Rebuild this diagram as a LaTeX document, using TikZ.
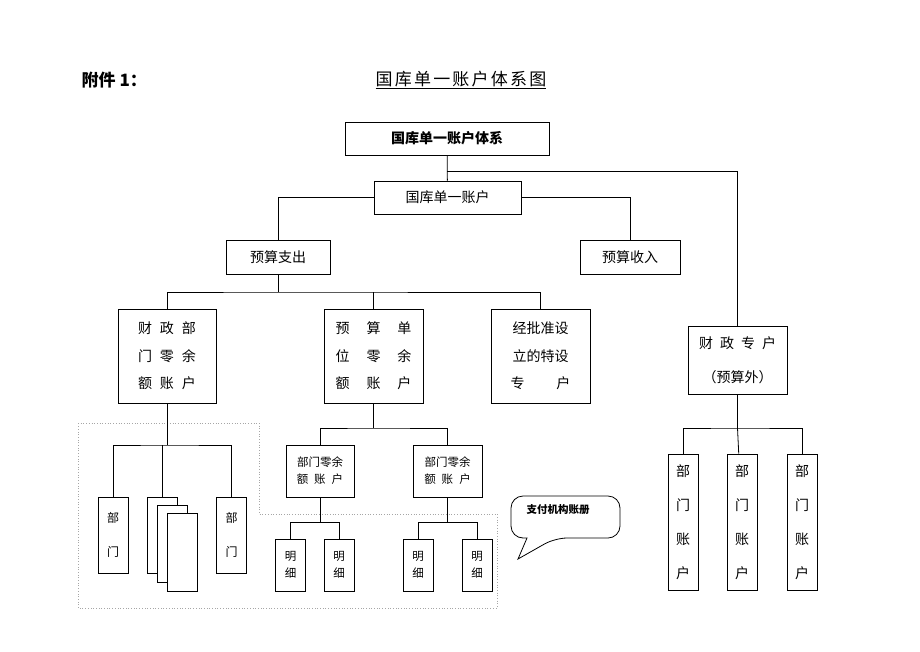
\documentclass[tikz,border=0pt]{standalone}
\usepackage{fontspec}
\setmainfont{Liberation Serif}
\newfontfamily\cjk{Noto Sans CJK SC}
\usetikzlibrary{positioning}
\tikzset{
  % every account box is an empty rectangle
  acct/.style 2 args = {
    draw = black,
    rectangle,
    inner sep = 0,
    minimum width = #1,
    minimum height = #2,
    align = center
  },
  % text sizes
  mid text/.style = {
    font = \cjk\fontsize{14}{27.5}\selectfont
  },
  tall text/.style = {
    font = \cjk\fontsize{14}{34}\selectfont
  },
  small text/.style = {
    font = \cjk\fontsize{11.5}{17}\selectfont
  },
  door text/.style = {
    font = \cjk\fontsize{12}{34}\selectfont
  },
  link/.style = {
    draw = black,
    line width = 0.8pt
  }
}
\begin{document}
\begin{tikzpicture}[x=1pt, y=-1pt, line width=0.8pt]
    \useasboundingbox (0,0) rectangle (920,651);

    % headings
    \node[font=\cjk\bfseries\fontsize{17}{20}\selectfont, anchor=west] (annex) at (78,80) {附件 1：};
    \node[font=\cjk\fontsize{17}{20}\selectfont\addfontfeatures{LetterSpace=13}] (title) at (461,80) {\underline{国库单一账户体系图}};

    % gray dotted area
    \draw[gray!70, dotted, line width=0.7pt] (78,423) -- (259,423) -- (259,514) -- (497,514)
      -- (497,608) -- (78,608) -- cycle;

    \node[acct={204}{33}, font=\cjk\bfseries\fontsize{14}{16}\selectfont] (sys) at (447,138.5) {国库单一账户体系};
    \node[acct={147}{33}, mid text] (single) at (447.5,197.5) {国库单一账户};
    \node[acct={104}{34}, mid text] (spend) at (278,257) {预算支出};
    \node[acct={100}{34}, mid text] (income) at (630,257) {预算收入};

    \node[acct={98}{94}, mid text] (fin) at (167,356)
      {财\hspace{8pt}政\hspace{8pt}部\\门\hspace{8pt}零\hspace{8pt}余\\额\hspace{8pt}账\hspace{8pt}户};
    \node[acct={99}{94}, mid text] (unit) at (373.5,356)
      {预\hspace{17pt}算\hspace{17pt}单\\位\hspace{17pt}零\hspace{17pt}余\\额\hspace{17pt}账\hspace{17pt}户};
    \node[acct={99}{94}, mid text] (special) at (540.5,356)
      {经批准设\\立的特设\\专\hspace{32pt}户};
    \node[acct={99}{68}, tall text] (extra) at (737.5,360)
      {财\hspace{7pt}政\hspace{7pt}专\hspace{7pt}户\\（预算外）};

    % department accounts under the extra-budget account
    \node[acct={30}{136}, tall text] (dep1) at (683,522) {部\\门\\账\\户};
    \node[acct={30}{136}, tall text] (dep2) at (742,522) {部\\门\\账\\户};
    \node[acct={30}{136}, tall text] (dep3) at (802,522) {部\\门\\账\\户};

    % department boxes under the finance account
    \node[acct={30}{76}, door text] (doorL) at (113,535) {部\\门};
    \node[acct={30}{76}, fill=white] (stack1) at (162,535) {};
    \node[acct={30}{77}, fill=white] (stack2) at (172,543.5) {};
    \node[acct={30}{78}, fill=white] (stack3) at (182,552) {};
    \node[acct={30}{76}, door text] (doorR) at (231.5,535) {部\\门};

    % zero-balance accounts of departments
    \node[acct={68}{52}, small text] (zeroA) at (320,471) {部门零余\\额\hspace{6pt}账\hspace{6pt}户};
    \node[acct={69}{52}, small text] (zeroB) at (447.5,471) {部门零余\\额\hspace{6pt}账\hspace{6pt}户};

    \node[acct={30}{52}, small text] (itemA1) at (290.5,565) {明\\细};
    \node[acct={30}{52}, small text] (itemA2) at (339,565) {明\\细};
    \node[acct={30}{52}, small text] (itemB1) at (418,565) {明\\细};
    \node[acct={30}{52}, small text] (itemB2) at (477,565) {明\\细};

    % callout
    \node[font=\cjk\bfseries\fontsize{10.5}{12}\selectfont] (book) at (558,510) {支付机构账册};
    \draw (527,538) [rounded corners=12] -- (511,538) -- (511,496) -- (620,496) -- (620,538)
      -- (555,538) [sharp corners] -- (518,559) -- cycle;

    % bus points
    \coordinate (split) at (447,171);
    \coordinate (busA) at (278,292);
    \coordinate (busB) at (167,445);
    \coordinate (busC) at (373.5,428);
    \coordinate (busD) at (737.5,428);
    \coordinate (busE) at (320,522);
    \coordinate (busF) at (447.5,522);

    \draw[link] (sys) -- (single);
    \draw[link] (split) -| (extra);
    \draw[link] (single.west) -| (spend);
    \draw[link] (single.east) -| (income);

    \draw[link] (spend) -- (busA);
    \draw[link] (fin) |- (busA) -| (special);
    \draw[link] (busA -| unit) -- (unit);

    \draw[link] (fin) -- (busB);
    \draw[link] (doorL) |- (busB) -| (doorR);
    \draw[link] (busB -| stack1) -- (stack1);

    \draw[link] (unit) -- (busC);
    \draw[link] (zeroA) |- (busC) -| (zeroB);

    \draw[link] (extra) -- (busD);
    \draw[link] (dep1) |- (busD) -| (dep3);
    \draw[link] (busD) -- (dep2);

    \draw[link] (zeroA) -- (busE);
    \draw[link] (itemA1) |- (busE) -| (itemA2);
    \draw[link] (zeroB) -- (busF);
    \draw[link] (itemB1) |- (busF) -| (itemB2);
\end{tikzpicture}
\end{document}
